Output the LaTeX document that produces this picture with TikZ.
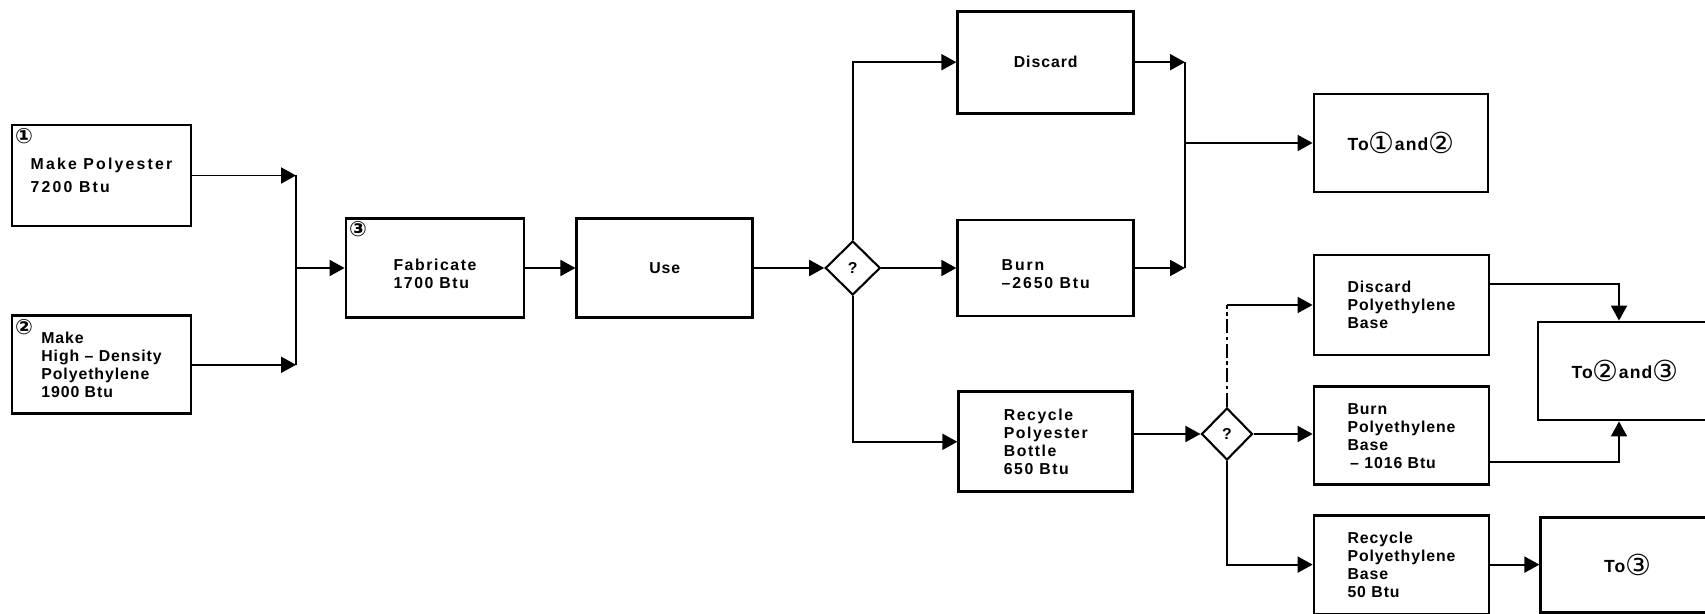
\documentclass[tikz,border=0pt]{standalone}
\usepackage{fontspec}
\setmainfont{Liberation Sans}[LetterSpace=6]
\newfontfamily\circfont{DejaVu Sans}
\usepackage{tikz}
\usetikzlibrary{shapes.geometric, arrows.meta, positioning, calc}

\begin{document}
\begin{tikzpicture}[
		node distance=1.0cm and 1.0cm,
		box/.style={rectangle, draw=black, line width=1.6pt, minimum width=3.52cm, minimum height=1.98cm, align=left, inner sep=2pt, font=\fontsize{9}{10.3}\selectfont\bfseries},
		decide/.style={diamond, draw=black, line width=1.2pt, minimum width=1.1cm, minimum height=1.08cm, inner sep=0pt, font=\fontsize{9}{10}\selectfont\bfseries},
		tag/.style={anchor=north west, inner sep=2.4pt, font=\fontsize{12}{12}\selectfont\circfont\bfseries},
		goal/.style={box, minimum width=3.48cm, minimum height=1.96cm, align=center, font=\fontsize{10}{10}\selectfont\bfseries},
		arrow/.style={-{Triangle[length=0.3cm, width=0.32cm]}, line width=1.1pt},
		link/.style={line width=1.1pt},
		dashlink/.style={line width=1.1pt, dash pattern=on 8pt off 2pt on 2pt off 2pt}
		]
		\newcommand{\ring}[1]{\raisebox{-1.6pt}{\circfont\mdseries\fontsize{16.5}{16.5}\selectfont #1}}
		\useasboundingbox (0,0) rectangle (34.10,-12.28);
		
		\node[box, minimum width=3.58cm, minimum height=2.02cm, font=\fontsize{9}{10}\selectfont\bfseries\addfontfeature{LetterSpace=14}, label={[tag]north west:{①}}] (poly) at (2.03,-3.51) {Make Polyester\\[3pt]7200 Btu};
		\node[box, minimum width=3.58cm, minimum height=1.96cm, below=1.74cm of poly, label={[tag]north west:{②}}] (hdpe) {Make\\High -- Density\\Polyethylene\\1900 Btu};
		\node[box, minimum width=3.56cm, font=\fontsize{9}{10.3}\selectfont\bfseries\addfontfeature{LetterSpace=10}, label={[tag]north west:{③}}] (fab) at (8.70,-5.36) {\rule{0pt}{13pt}Fabricate\\1700 Btu};
		\node[box, right=1.0cm of fab] (use) {Use};
		\node[decide, right=1.4cm of use] (q1) {?};
		\node[box, minimum height=1.92cm, right=1.5cm of q1, font=\fontsize{9}{10.3}\selectfont\bfseries\addfontfeature{LetterSpace=12}] (burn) {\rule{0pt}{13pt}Burn\\--2650 Btu};
		\node[box, minimum height=2.04cm, above=2.08cm of burn] (discard) {Discard};
		\node[box, minimum width=3.48cm, minimum height=2.0cm, below=1.46cm of burn, font=\fontsize{9}{10.3}\selectfont\bfseries\addfontfeature{LetterSpace=10}] (recpb) {Recycle\\Polyester\\Bottle\\650 Btu};
		\node[goal] (to12) at (28.02,-2.86) {To\ring{①}and\ring{②}};
		
		\node[decide, minimum width=1.02cm, minimum height=1.04cm] (q2) at (24.54,-8.68) {?};
		\node[box, minimum width=3.5cm, minimum height=2.0cm] (discpe) at (28.03,-6.10) {Discard\\Polyethylene\\Base};
		\node[box, minimum width=3.5cm, minimum height=1.96cm, below=0.58cm of discpe] (burnpe) {Burn\\Polyethylene\\Base\\\,-- 1016 Btu};
		\node[box, minimum width=3.5cm, below=0.55cm of burnpe] (recpe) {Recycle\\Polyethylene\\Base\\50 Btu};
		\node[goal] (to23) at (32.50,-7.42) {To\ring{②}and\ring{③}};
		\node[goal, minimum height=1.90cm, right=0.98cm of recpe] (to3) {To\ring{③}};
		
		\coordinate (joinL) at (5.92,-5.36);
		\coordinate (joinR) at (23.70,-2.86);
		
		% make -> fabricate -> use
		\draw[arrow] (poly) -- (poly -| joinL);
		\draw[arrow] (hdpe) -- (hdpe -| joinL);
		\draw[link] (poly -| joinL) -- (hdpe -| joinL);
		\draw[arrow] (joinL) -- (fab);
		\draw[arrow] (fab) -- (use);
		\draw[arrow] (use) -- (q1);
		
		% first choice
		\draw[arrow] (q1.north) |- (discard);
		\draw[arrow] (q1) -- (burn);
		\draw[arrow] (q1.south) |- (recpb);
		\draw[arrow] (discard) -- (discard -| joinR);
		\draw[arrow] (burn) -- (burn -| joinR);
		\draw[link] (discard -| joinR) -- (burn -| joinR);
		\draw[arrow] (joinR) -- (to12);
		
		% second choice
		\draw[arrow] (recpb.east |- q2) -- (q2);
		\draw[arrow] (q2) -- (q2 -| burnpe.west);
		\draw[dashlink] (q2.north) -- (q2 |- discpe);
		\draw[arrow] (q2 |- discpe) -- (discpe);
		\draw[arrow] (q2.south) |- (recpe);
		\draw[arrow] (recpe) -- (to3);
		\draw[arrow] ([yshift=0.42cm]discpe.east) -| ([xshift=-0.12cm]to23.north);
		\draw[arrow] ([yshift=-0.52cm]burnpe.east) -| ([xshift=-0.12cm]to23.south);
	\end{tikzpicture}
\end{document}
